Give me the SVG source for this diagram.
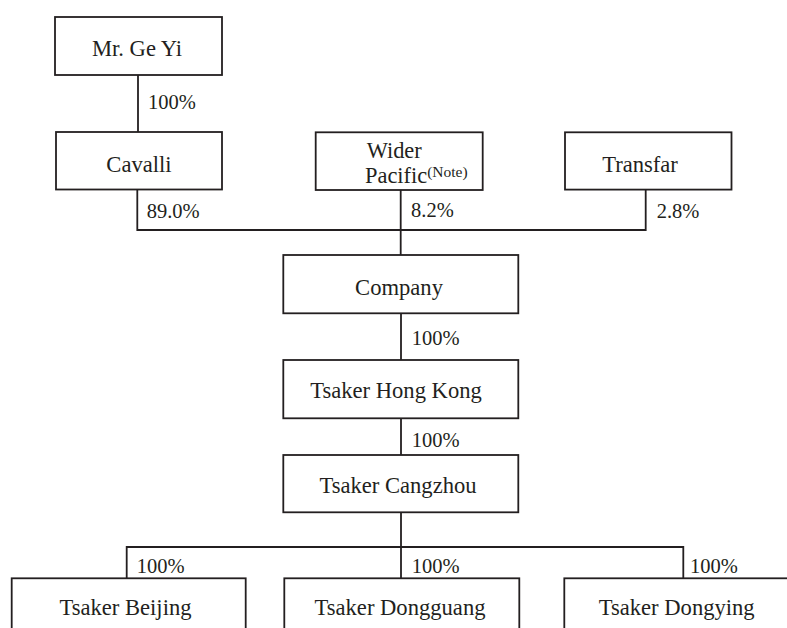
<svg xmlns="http://www.w3.org/2000/svg" width="787" height="628" viewBox="0 0 787 628">
<style>
.box{fill:#fff;stroke:#231f20;stroke-width:1.8}
.ln{fill:none;stroke:#231f20;stroke-width:1.8}
.t{font-family:"Liberation Serif","Times New Roman",serif;font-size:22.6px;fill:#231f20;text-anchor:middle}
.p{font-family:"Liberation Serif","Times New Roman",serif;font-size:20.5px;fill:#231f20}
.l{font-family:"Liberation Serif","Times New Roman",serif;font-size:22.4px;fill:#231f20}
.sup{font-size:15.5px}
</style>
<rect width="787" height="628" fill="#fff"/>
<g id="connectors">
<path class="ln" d="M138 75V132"/>
<path class="ln" d="M137.3 190V230H645.7V190M400.7 190V255"/>
<path class="ln" d="M401 313V360M401 418.3V455M401 512.3V547"/>
<path class="ln" d="M126.7 578.3V547H683.3V578.3M401 547V578.3"/>
<text class="p" x="148" y="109">100%</text>
<text class="p" x="146.7" y="217.5">89.0%</text>
<text class="p" x="411" y="217">8.2%</text>
<text class="p" x="656.7" y="217.5">2.8%</text>
<text class="p" x="411.7" y="345">100%</text>
<text class="p" x="411.7" y="446.7">100%</text>
<text class="p" x="136.7" y="572.7">100%</text>
<text class="p" x="411.7" y="572.7">100%</text>
<text class="p" x="690" y="572.7">100%</text>
</g>
<g id="mr-ge-yi"><rect class="box" x="55" y="17" width="167" height="58"/><text class="t" x="137" y="56">Mr. Ge Yi</text></g>
<g id="cavalli"><rect class="box" x="56" y="132" width="166" height="57.5"/><text class="t" x="139" y="171.5">Cavalli</text></g>
<g id="wider-pacific"><rect class="box" x="315.7" y="132.3" width="167" height="57.7"/><text class="l" x="366.7" y="157.7">Wider</text><text class="l" x="365" y="183.3">Pacific<tspan class="sup" dy="-6">(Note)</tspan></text></g>
<g id="transfar"><rect class="box" x="565" y="132.3" width="166.5" height="57.3"/><text class="t" x="640" y="171.5">Transfar</text></g>
<g id="company"><rect class="box" x="283.3" y="255" width="235" height="58.3"/><text class="t" x="399" y="295">Company</text></g>
<g id="tsaker-hong-kong"><rect class="box" x="283.3" y="360" width="235" height="58.3"/><text class="t" x="396" y="398.3">Tsaker Hong Kong</text></g>
<g id="tsaker-cangzhou"><rect class="box" x="283.3" y="455" width="235" height="57.3"/><text class="t" x="398" y="493.3">Tsaker Cangzhou</text></g>
<g id="tsaker-beijing"><rect class="box" x="11.7" y="578.3" width="234" height="70"/><text class="t" x="125.5" y="615">Tsaker Beijing</text></g>
<g id="tsaker-dongguang"><rect class="box" x="284.3" y="578.3" width="235" height="70"/><text class="t" x="400" y="615">Tsaker Dongguang</text></g>
<g id="tsaker-dongying"><rect class="box" x="564.3" y="578.3" width="235" height="70"/><text class="t" x="676.7" y="615">Tsaker Dongying</text></g>
</svg>
